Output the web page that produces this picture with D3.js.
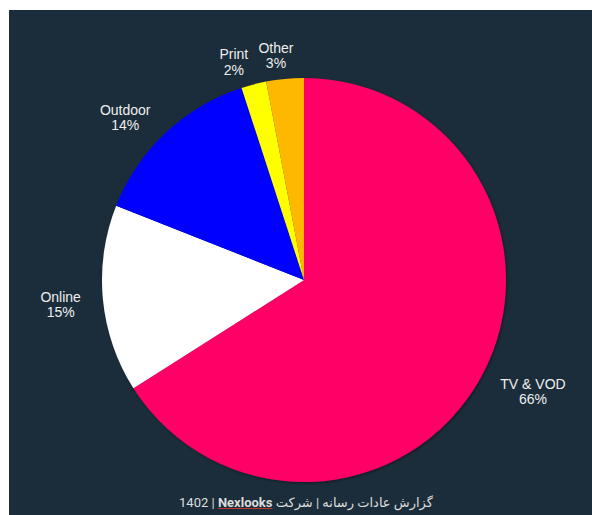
<!DOCTYPE html>
<html><head><meta charset="utf-8">
<script src="https://cdn.jsdelivr.net/npm/d3@7"></script>
<style>
html,body{margin:0;padding:0;background:#fff;}
#wrap{position:relative;width:592px;height:515px;}
svg{display:block;}
#footer{position:absolute;left:0;width:612px;top:494px;text-align:center;direction:rtl;
  font-family:Roboto,'DejaVu Sans',sans-serif;font-size:13px;color:#dddddd;line-height:18px;}
#footer span{unicode-bidi:isolate;}
#footer .brand{font-weight:bold;text-decoration:underline;text-decoration-color:#c0392b;}
</style></head>
<body>
<div id="wrap"></div>
<script>
const categories = ["TV & VOD", "Online", "Outdoor", "Print", "Other"];
const values = [66, 15, 14, 2, 3];
const colors = ["#ff0066", "#ffffff", "#0000ff", "#ffff00", "#ffb800"];
const footerParts = ["گزارش عادات رسانه | شرکت", "Nexlooks", "| 1402"];

const W = 592, H = 515;
const wrap = d3.select("#wrap");
const svg = wrap.append("svg").attr("width", W).attr("height", H);
svg.append("rect").attr("x", 9).attr("y", 10).attr("width", W - 9).attr("height", H - 10).attr("fill", "#1b2d3a");

const defs = svg.append("defs");
const f = defs.append("filter").attr("id", "sh").attr("x", "-20%").attr("y", "-20%").attr("width", "140%").attr("height", "140%");
f.append("feDropShadow").attr("dx", 1).attr("dy", 1).attr("stdDeviation", 1.5).attr("flood-color", "#000").attr("flood-opacity", 0.45);

const cx = 304, cy = 280, r = 202;
const data = categories.map((c, i) => ({ name: c, value: values[i], color: colors[i] }));
const pie = d3.pie().value(d => d.value).sort(null);
const arcs = pie(data);
const arc = d3.arc().innerRadius(0).outerRadius(r);

const g = svg.append("g").attr("transform", `translate(${cx},${cy})`);
g.append("g").attr("filter", "url(#sh)")
  .selectAll("path").data(arcs).join("path")
  .attr("d", arc).attr("fill", d => d.data.color);

const total = d3.sum(values);
const Rx = r + 22, Ry = r + 24;
const lg = g.append("g").attr("font-family", "'Liberation Sans', Arial, sans-serif").attr("font-size", 14).attr("fill", "#eeeeee");
const labels = arcs.map(a => {
  const mid = (a.startAngle + a.endAngle) / 2;
  const sx = Math.sin(mid), sy = -Math.cos(mid);
  const t = lg.append("text").attr("text-anchor", "middle");
  t.append("tspan").attr("x", 0).attr("dy", 0).text(a.data.name);
  t.append("tspan").attr("x", 0).attr("dy", 15.5).text(Math.round(a.data.value / total * 100) + "%");
  const bb = t.node().getBBox();
  return { t, bb, w: bb.width, h: bb.height, x: Rx * sx + Math.sign(sx) * bb.width / 2, y: Ry * sy + 3 * Math.abs(sx), side: Math.sign(sx) };
});
const pad = 10;
for (let i = 0; i < labels.length; i++) {
  for (let j = 0; j < i; j++) {
    const a = labels[i], b = labels[j];
    const ov = Math.abs(a.y - b.y) < (a.h + b.h) / 2;
    const dx = Math.abs(a.x - b.x), need = (a.w + b.w) / 2 + pad;
    if (ov && dx < need) {
      a.x += (a.x >= b.x ? 1 : -1) * (need - dx);
    }
  }
}
labels.forEach(l => l.t.attr("transform", `translate(${l.x},${l.y - l.bb.y - l.h / 2})`));

const ft = wrap.append("div").attr("id", "footer");
ft.append("span").text(footerParts[0]);
ft.append("span").text(" ");
ft.append("span").attr("class", "brand").text(footerParts[1]);
ft.append("span").text(" ");
ft.append("span").text(footerParts[2]);
</script>
</body></html>
